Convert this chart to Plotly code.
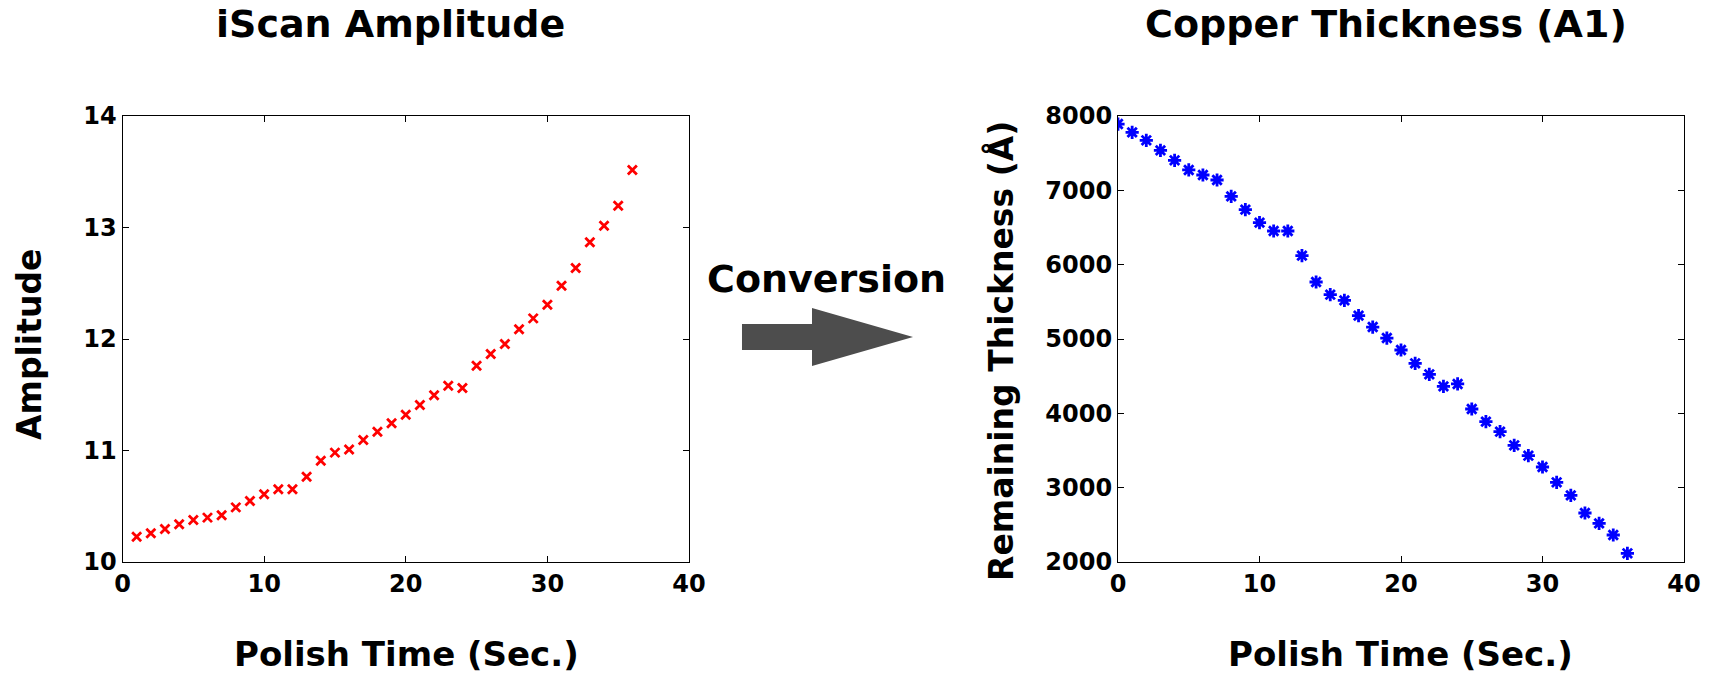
import plotly.graph_objects as go

W, H = 1711, 678

# ---- data ----
time_left = list(range(1, 37))
amplitude = [10.227, 10.257, 10.296, 10.338, 10.377, 10.398, 10.419, 10.490, 10.547, 10.607,
             10.652, 10.652, 10.765, 10.909, 10.981, 11.010, 11.094, 11.169, 11.244, 11.321,
             11.408, 11.495, 11.581, 11.561, 11.761, 11.865, 11.955, 12.087, 12.185, 12.308,
             12.478, 12.637, 12.867, 13.016, 13.196, 13.516]

time_right = list(range(0, 37))
thickness = [7892, 7780, 7673, 7538, 7404, 7274, 7206, 7139, 6919, 6740,
             6565, 6453, 6453, 6121, 5767, 5596, 5520, 5314, 5161, 5013,
             4852, 4673, 4525, 4363, 4395, 4058, 3888, 3753, 3570, 3430,
             3278, 3072, 2897, 2659, 2520, 2363, 2117]

x_ticks = [0, 10, 20, 30, 40]
amp_ticks = [10, 11, 12, 13, 14]
thk_ticks = [2000, 3000, 4000, 5000, 6000, 7000, 8000]

FONT = "DejaVu Sans"

def px(x):
    return x / W

def py(y):
    return 1 - y / H

fig = go.Figure()
fig.add_trace(go.Scatter(x=time_left, y=amplitude, mode="markers",
                         marker=dict(symbol="x-thin-open", size=9, color="#ff0000",
                                     line=dict(width=2.8, color="#ff0000")),
                         xaxis="x", yaxis="y", showlegend=False))
fig.add_trace(go.Scatter(x=time_right, y=thickness, mode="markers",
                         marker=dict(symbol="asterisk-open", size=11, color="#0000ff",
                                     line=dict(width=2.8, color="#0000ff")),
                         xaxis="x2", yaxis="y2", showlegend=False))

ax_common = dict(showline=True, linecolor="black", linewidth=1.2, mirror="ticks",
                 ticks="inside", ticklen=6, tickwidth=1, tickcolor="black",
                 showgrid=False, zeroline=False, automargin=False,
                 tickfont=dict(family=FONT, size=24, color="black", weight="bold"))

ydom = [py(562), py(116)]
fig.update_layout(
    template="none",
    width=W, height=H,
    margin=dict(l=0, r=0, t=0, b=0, pad=0),
    paper_bgcolor="white", plot_bgcolor="white",
    xaxis=dict(domain=[px(122.5), px(689)], range=[0, 40], tickvals=x_ticks, anchor="y", **ax_common),
    yaxis=dict(domain=ydom, range=[10, 14], tickvals=amp_ticks, anchor="x", **ax_common),
    xaxis2=dict(domain=[px(1118), px(1684)], range=[0, 40], tickvals=x_ticks, anchor="y2", **ax_common),
    yaxis2=dict(domain=ydom, range=[2000, 8000], tickvals=thk_ticks, tickformat="d", anchor="x2", **ax_common),
)

def ann(text, x, y, size, angle=0):
    fig.add_annotation(text=text, x=px(x), y=py(y), xref="paper", yref="paper",
                       xanchor="center", yanchor="middle", showarrow=False, textangle=angle,
                       font=dict(family=FONT, size=size, color="black", weight="bold"))

ann("iScan Amplitude", 390, 24, 38)
ann("Copper Thickness (A1)", 1386, 24, 38)
ann("Conversion", 826, 279, 38)
ann("Polish Time (Sec.)", 406, 654, 34)
ann("Polish Time (Sec.)", 1400, 654, 34)
ann("Amplitude", 29, 345, 33, -90)
ann("Remaining Thickness (Å)", 1001, 351, 33, -90)

# arrow shape
pts = [(742, 324), (812, 324), (812, 308), (913, 337), (812, 366), (812, 350), (742, 350)]
path = "M " + " L ".join(f"{px(a):.5f},{py(b):.5f}" for a, b in pts) + " Z"
fig.add_shape(type="path", path=path, xref="paper", yref="paper",
              fillcolor="#4d4d4d", line=dict(width=0))

fig.write_html("out.html")
